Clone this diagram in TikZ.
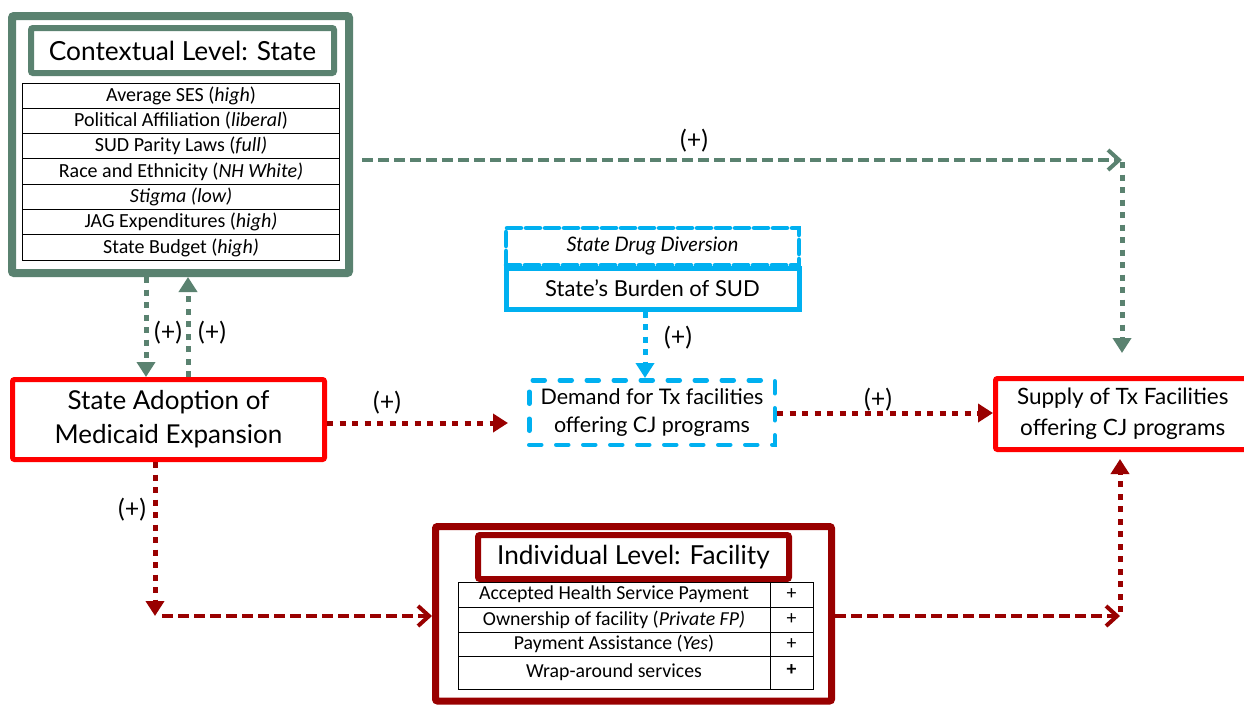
\documentclass[tikz,border=0pt]{standalone}
\usepackage{fontspec}
\setmainfont{Lato}
\newfontfamily\tabfont{Carlito}
\usetikzlibrary{arrows.meta}
\definecolor{ggreen}{RGB}{90,130,112}
\definecolor{bblue}{RGB}{0,176,240}
\definecolor{bred}{RGB}{255,0,0}
\definecolor{dred}{RGB}{153,0,0}
\tikzset{
  box/.style={draw, rectangle, inner sep=0pt, align=center, rounded corners=2pt},
  bigfont/.style={font=\fontsize{26}{34}\selectfont},
  midfont/.style={font=\fontsize{21.5}{28}\selectfont},
  cell/.style={draw=black, line width=0.9pt, rectangle, inner sep=0pt},
  gtab/.style={cell, font=\tabfont\fontsize{20}{22}\selectfont},
  itab/.style={cell, font=\tabfont\fontsize{19.8}{22}\selectfont},
  plus/.style={inner sep=0pt, font=\fontsize{25}{28}\selectfont},
  dotln/.style={line width=5pt, dash pattern=on 6pt off 6.5pt},
  dashln/.style={line width=4pt, dash pattern=on 11pt off 5pt},
  fillhead/.style={-{Triangle[length=15pt,width=18pt]}},
  openhead/.style={-{Straight Barb[length=11pt,width=20pt]}},
}
\begin{document}
\begin{tikzpicture}[x=1pt,y=-1pt]
\useasboundingbox (0,0) rectangle (1244,705);
\fill[white] (0,0) rectangle (1244,705);

% Contextual level box
\node[box, draw=ggreen, line width=8pt, minimum width=337pt, minimum height=257pt] (ctx) at (180.5,144.5) {};
\node[box, draw=ggreen, line width=6pt, minimum width=303pt, minimum height=45pt, font=\fontsize{26.3}{30}\selectfont] (ctxt) at (182.5,50.5) {Contextual Level: State};
\foreach \t [count=\i] in {
  {Average SES (\textit{high})},
  {Political Affiliation (\textit{liberal})},
  {SUD Parity Laws (\textit{full)}},
  {Race and Ethnicity (\textit{NH White)}},
  {\textit{Stigma (low)}},
  {JAG Expenditures (\textit{high)}},
  {State Budget (\textit{high)}}}
  \node[gtab, minimum width=316.3pt, minimum height=25.3pt] (r\i) at (181,{95.65+25.3*(\i-1)}) {\t};

% State adoption
\node[box, draw=bred, line width=5pt, minimum width=312pt, minimum height=80pt, bigfont] (adopt) at (168.5,419.5) {State Adoption of\\Medicaid Expansion};

% Blue boxes
\node[draw=bblue, line width=4.5pt, dash pattern=on 14pt off 5pt, line cap=round, rectangle, inner sep=0pt, minimum width=293pt, minimum height=37pt, font=\itshape\fontsize{20}{24}\selectfont] (drug) at (652.5,246.5) {State Drug Diversion};
\node[draw=bblue, line width=5pt, rectangle, inner sep=0pt, minimum width=293pt, minimum height=41pt, font=\fontsize{22}{26}\selectfont] (burden) at (652.5,288.5) {State’s Burden of SUD};

% Demand
\node[draw=bblue, line width=4.5pt, dash pattern=on 12pt off 15pt, line cap=round, rectangle, inner sep=0pt, align=center, minimum width=245.5pt, minimum height=64.5pt, midfont] (demand) at (652,412.5) {Demand for Tx facilities\\offering CJ programs};

% Supply
\node[box, draw=bred, line width=5pt, minimum width=254.5pt, minimum height=71pt, font=\fontsize{22.5}{31}\selectfont] (supply) at (1122.75,414) {Supply of Tx Facilities\\offering CJ programs};

% Individual level
\node[box, draw=dred, line width=7pt, minimum width=396pt, minimum height=174.5pt] (indiv) at (633.5,613.75) {};
\node[box, draw=dred, line width=6pt, minimum width=311pt, minimum height=44pt, fill=white, font=\fontsize{26.2}{30}\selectfont] (indt) at (633.5,557) {Individual Level: Facility};
\node[itab, minimum width=312pt, minimum height=25pt] (a1) at (614,594.5) {Accepted Health Service Payment};
\node[itab, minimum width=43pt, minimum height=25pt] (b1) at (791.5,594.5) {+};
\node[itab, minimum width=312pt, minimum height=25pt] (a2) at (614,619.5) {Ownership of facility (\textit{Private FP)}};
\node[itab, minimum width=43pt, minimum height=25pt] (b2) at (791.5,619.5) {+};
\node[itab, minimum width=312pt, minimum height=24pt] (a3) at (614,644) {Payment Assistance (\textit{Yes})};
\node[itab, minimum width=43pt, minimum height=24pt] (b3) at (791.5,644) {+};
\node[itab, minimum width=312pt, minimum height=33pt] (a4) at (614,672.5) {\raisebox{4pt}{Wrap-around services}};
\node[itab, minimum width=43pt, minimum height=33pt] (b4) at (791.5,672.5) {\raisebox{4pt}{\textbf{+}}};

% Coordinates
\coordinate (g1) at (146,0);
\coordinate (g2) at (188,0);
\coordinate (gturn) at (1122,160);
\coordinate (bx) at (645,0);
\coordinate (ry1) at (0,423);
\coordinate (ry2) at (0,413);
\coordinate (dturn) at (155,616);
\coordinate (rturn) at (1120,616);

% Green connectors
\draw[ggreen, dotln, fillhead] (ctx.south -| g1) -- (adopt.north -| g1);
\draw[ggreen, dotln, fillhead] (adopt.north -| g2) -- (ctx.south -| g2);
\draw[ggreen, dashln, openhead] ([xshift=9pt]ctx.east |- gturn) -- (gturn);
\draw[ggreen, dotln, fillhead, shorten >=23pt] ([yshift=-2pt]gturn) -- (gturn |- supply.north);

% Blue connector
\draw[bblue, dotln, fillhead] (burden.south -| bx) -- (demand.north -| bx);

% Red connectors
\draw[dred, dotln, fillhead, shorten >=19pt] (adopt.east |- ry1) -- (demand.west |- ry1);
\draw[dred, dotln, fillhead] (demand.east |- ry2) -- (supply.west |- ry2);
\draw[dred, dotln, fillhead] (adopt.south -| dturn) -- (dturn);
\draw[dred, dashln, openhead] ([xshift=7pt]dturn) -- (indiv.west |- dturn);
\draw[dred, dashln, openhead] (indiv.east |- rturn) -- (rturn);
\draw[dred, dotln, fillhead, shorten >=7pt] ([yshift=4pt]rturn) -- (rturn |- supply.south);

% Labels
\node[plus] (p1) at (168,333) {(+)};
\node[plus] (p2) at (212,333) {(+)};
\node[plus] (p3) at (694,141) {(+)};
\node[plus] (p4) at (678,338) {(+)};
\node[plus] (p5) at (387,403) {(+)};
\node[plus] (p6) at (878,400) {(+)};
\node[plus] (p7) at (132,510) {(+)};
\end{tikzpicture}
\end{document}
